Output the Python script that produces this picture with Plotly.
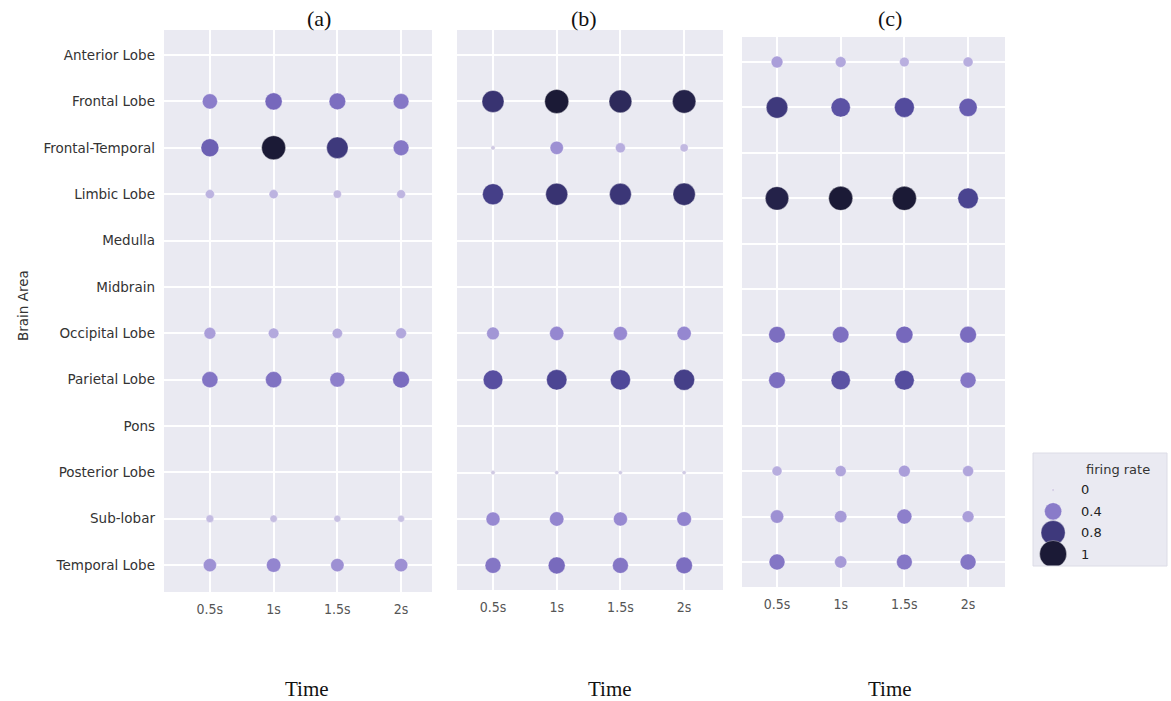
import math
import plotly.graph_objects as go

# ---- data -------------------------------------------------------------
areas = ["Anterior Lobe", "Frontal Lobe", "Frontal-Temporal", "Limbic Lobe",
         "Medulla", "Midbrain", "Occipital Lobe", "Parietal Lobe", "Pons",
         "Posterior Lobe", "Sub-lobar", "Temporal Lobe"]
times = ["0.5s", "1s", "1.5s", "2s"]
panel_titles = ["(a)", "(b)", "(c)"]
N = None

# firing rate per area (rows) and time window (columns); None = no units
rate_a = [
    [N, N, N, N],
    [0.39, 0.50, 0.47, 0.42],
    [0.55, 1.00, 0.80, 0.42],
    [0.13, 0.13, 0.10, 0.12],
    [N, N, N, N],
    [N, N, N, N],
    [0.23, 0.18, 0.17, 0.19],
    [0.44, 0.45, 0.38, 0.48],
    [N, N, N, N],
    [N, N, N, N],
    [0.09, 0.08, 0.07, 0.07],
    [0.29, 0.35, 0.30, 0.30],
]
rate_b = [
    [N, N, N, N],
    [0.84, 1.00, 0.90, 0.95],
    [0.02, 0.30, 0.16, 0.10],
    [0.76, 0.84, 0.82, 0.86],
    [N, N, N, N],
    [N, N, N, N],
    [0.27, 0.34, 0.33, 0.34],
    [0.66, 0.72, 0.70, 0.76],
    [N, N, N, N],
    [0.02, 0.015, 0.015, 0.015],
    [0.33, 0.35, 0.33, 0.36],
    [0.43, 0.49, 0.43, 0.47],
]
rate_c = [
    [0.23, 0.19, 0.15, 0.16],
    [0.80, 0.64, 0.68, 0.57],
    [N, N, N, N],
    [0.95, 1.00, 1.00, 0.73],
    [N, N, N, N],
    [N, N, N, N],
    [0.47, 0.46, 0.50, 0.48],
    [0.47, 0.64, 0.67, 0.43],
    [N, N, N, N],
    [0.16, 0.20, 0.23, 0.20],
    [0.30, 0.25, 0.38, 0.23],
    [0.43, 0.25, 0.42, 0.43],
]
legend_values = [0, 0.4, 0.8, 1]
legend_labels = ["0", "0.4", "0.8", "1"]

# ---- styling ------------------------------------------------------------
W, H = 1171, 701
BG = "#EAEAF2"
colorscale = [
    [0.00, "#D3CEE4"], [0.15, "#B9AFDF"], [0.35, "#9385CF"], [0.50, "#7668BC"],
    [0.70, "#4F4899"], [0.85, "#36326E"], [1.00, "#1B1A36"],
]


def size_px(v, dmax, dmin=3.0):
    """Marker diameter with area linear in the firing rate."""
    return math.sqrt(dmin ** 2 + (dmax ** 2 - dmin ** 2) * v)


def px_x(p):
    return p / W


def px_y(p):
    return 1 - p / H


def label(text, x, y, size, family, color="#333333", angle=0, xanchor="center"):
    return dict(text=text, x=px_x(x), y=px_y(y), xref="paper", yref="paper",
                xanchor=xanchor, yanchor="middle", showarrow=False, textangle=angle,
                font=dict(family=family, size=size, color=color))


# panel boxes in pixels: (left, right, top, bottom) and axis ranges
panels = [
    dict(rates=rate_a, box=(164, 432, 30, 592), xr=[-0.72, 3.485], yr=[11.58, -0.54]),
    dict(rates=rate_b, box=(457, 723, 30, 590), xr=[-0.565, 3.61], yr=[11.53, -0.54]),
    dict(rates=rate_c, box=(742, 1005, 37, 587), xr=[-0.55, 3.58], yr=[11.55, -0.55]),
]

fig = go.Figure()
layout = dict(
    width=W, height=H,
    margin=dict(l=0, r=0, t=0, b=0),
    paper_bgcolor="white",
    plot_bgcolor=BG,
    showlegend=False,
    font=dict(family="DejaVu Sans", size=13, color="#333333"),
)

for i, p in enumerate(panels):
    n = "" if i == 0 else str(i + 1)
    xs, ys, vals = [], [], []
    for r, row in enumerate(p["rates"]):
        for c, v in enumerate(row):
            if v is not None:
                xs.append(c)
                ys.append(r)
                vals.append(v)
    fig.add_trace(go.Scatter(
        x=xs, y=ys, mode="markers", xaxis="x" + n, yaxis="y" + n,
        marker=dict(size=[size_px(v, 24) for v in vals], sizemode="diameter",
                    color=vals, colorscale=colorscale, cmin=0, cmax=1,
                    opacity=1, line=dict(color="rgba(255,255,255,0.6)", width=0.6)),
        hoverinfo="skip",
    ))
    l, r_, t, b = p["box"]
    layout["xaxis" + n] = dict(
        domain=[px_x(l), px_x(r_)], range=p["xr"], anchor="y" + n,
        tickmode="array", tickvals=list(range(len(times))), ticktext=times,
        showgrid=True, gridcolor="white", gridwidth=1.5, zeroline=False,
        showline=False, ticks="", ticklabelstandoff=7,
        tickfont=dict(family="DejaVu Sans Condensed, DejaVu Sans", size=14, color="#555555"),
    )
    layout["yaxis" + n] = dict(
        domain=[px_y(b), px_y(t)], range=p["yr"], anchor="x" + n,
        tickmode="array", tickvals=list(range(len(areas))),
        ticktext=areas if i == 0 else [""] * len(areas),
        showticklabels=(i == 0),
        showgrid=True, gridcolor="white", gridwidth=1.5, zeroline=False,
        showline=False, ticks="", ticklabelstandoff=8,
        tickfont=dict(family="DejaVu Sans", size=13.5, color="#333333"),
    )

# size legend: its own small axis pair whose plot area forms the legend box
fig.add_trace(go.Scatter(
    x=[0.15] * len(legend_values), y=list(range(len(legend_values))),
    mode="markers", xaxis="x4", yaxis="y4",
    marker=dict(size=[size_px(v, 27) for v in legend_values], sizemode="diameter",
                color=legend_values, colorscale=colorscale, cmin=0, cmax=1,
                opacity=1, line=dict(color="rgba(255,255,255,0.6)", width=0.6)),
    hoverinfo="skip",
))
layout["xaxis4"] = dict(domain=[px_x(1033), px_x(1167)], range=[0, 1], anchor="y4",
                        visible=False, fixedrange=True)
layout["yaxis4"] = dict(domain=[px_y(566), px_y(453)], range=[3.5625, -1.734],
                        anchor="x4", visible=False, fixedrange=True)

shapes = [dict(type="rect", xref="paper", yref="paper",
               x0=px_x(1033), x1=px_x(1167), y0=px_y(566), y1=px_y(453),
               fillcolor="rgba(0,0,0,0)", line=dict(color="#DCDCE6", width=1), layer="above")]

annotations = [label("firing rate", 1118, 469, 13, "DejaVu Sans")]
legend_y = [490, 511, 532, 554]
for k, t in enumerate(legend_labels):
    annotations.append(label(t, 1079, legend_y[k], 13, "DejaVu Sans", "#222222",
                             xanchor="left"))

title_x = [319, 584, 890]
time_x = [307, 610, 890]
for k in range(3):
    annotations.append(label(panel_titles[k], title_x[k], 19, 22, "Liberation Serif", "#111111"))
    annotations.append(label("Time", time_x[k], 689, 21, "Liberation Serif", "#111111"))
annotations.append(label("Brain Area", 23, 306, 13.5, "DejaVu Sans", angle=-90))

layout["shapes"] = shapes
layout["annotations"] = annotations
fig.update_layout(**layout)
fig.write_html("out.html")
